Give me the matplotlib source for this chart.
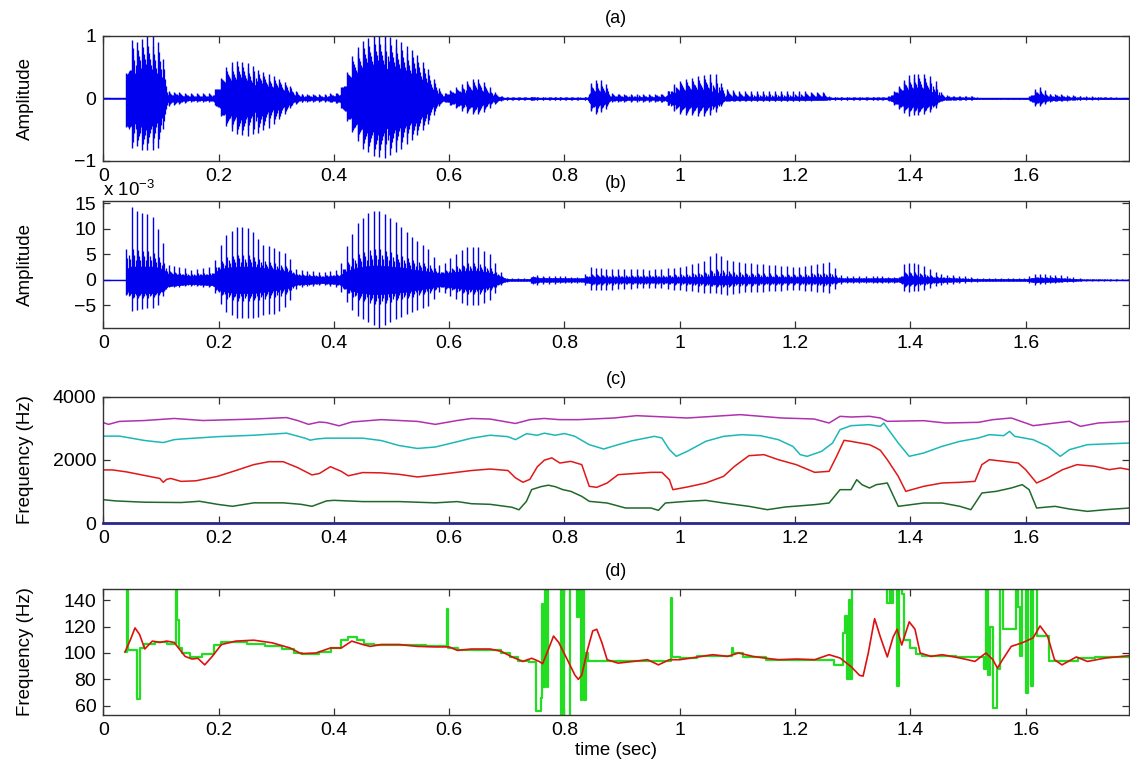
import numpy as np
import matplotlib
matplotlib.use("Agg")
from matplotlib import pyplot as plt

plt.rcParams['font.family'] = ['Liberation Sans', 'DejaVu Sans']

# ---- x axis (time, s) ----
t_max = 1.78
xticks = [0, 0.2, 0.4, 0.6, 0.8, 1.0, 1.2, 1.4, 1.6]
xtick_labels = ['0', '0.2', '0.4', '0.6', '0.8', '1', '1.2', '1.4', '1.6']

# ---- (a) speech waveform envelope ----
a_t = [0.000, 0.039, 0.040, 0.045, 0.050, 0.060, 0.070, 0.080, 0.090, 0.098, 0.105, 0.112,
       0.150, 0.190, 0.200, 0.210, 0.220, 0.235, 0.250, 0.270, 0.290, 0.310, 0.325, 0.340,
       0.380, 0.410, 0.420, 0.435, 0.450, 0.470, 0.490, 0.510, 0.530, 0.550, 0.565, 0.580,
       0.590, 0.600, 0.620, 0.640, 0.655, 0.670, 0.685, 0.695, 0.740, 0.745, 0.750, 0.840,
       0.845, 0.855, 0.870, 0.880, 0.950, 0.975, 0.985, 1.000, 1.030, 1.050, 1.065, 1.078,
       1.100, 1.200, 1.250, 1.262, 1.360, 1.385, 1.395, 1.420, 1.440, 1.452, 1.460, 1.510,
       1.520, 1.605, 1.615, 1.625, 1.640, 1.700, 1.780]
a_pos = [0.01, 0.01, 0.40, 0.60, 0.95, 0.90, 0.98, 1.00, 1.00, 0.85, 0.60, 0.12,
         0.08, 0.08, 0.25, 0.45, 0.58, 0.60, 0.57, 0.45, 0.38, 0.30, 0.20, 0.08,
         0.07, 0.10, 0.35, 0.75, 0.92, 1.00, 1.00, 0.95, 0.82, 0.65, 0.45, 0.20,
         0.08, 0.12, 0.22, 0.32, 0.30, 0.18, 0.06, 0.02, 0.02, 0.04, 0.02, 0.02,
         0.25, 0.30, 0.28, 0.08, 0.07, 0.08, 0.20, 0.28, 0.35, 0.40, 0.38, 0.15,
         0.12, 0.12, 0.10, 0.02, 0.02, 0.25, 0.38, 0.40, 0.35, 0.12, 0.05, 0.04,
         0.01, 0.01, 0.15, 0.18, 0.08, 0.04, 0.01]
a_neg = [-0.01, -0.01, -0.45, -0.70, -0.80, -0.75, -0.85, -0.80, -0.85, -0.75, -0.45, -0.12,
         -0.05, -0.05, -0.20, -0.40, -0.50, -0.58, -0.60, -0.55, -0.45, -0.30, -0.15, -0.06,
         -0.05, -0.08, -0.30, -0.60, -0.80, -0.92, -0.95, -0.85, -0.70, -0.55, -0.40, -0.15,
         -0.05, -0.10, -0.20, -0.25, -0.25, -0.15, -0.05, -0.02, -0.02, -0.04, -0.02, -0.02,
         -0.20, -0.25, -0.20, -0.05, -0.05, -0.06, -0.18, -0.25, -0.28, -0.28, -0.20, -0.05,
         -0.04, -0.04, -0.03, -0.02, -0.02, -0.20, -0.28, -0.25, -0.20, -0.05, -0.03, -0.02,
         -0.01, -0.01, -0.12, -0.12, -0.05, -0.02, -0.01]
a_core = [0.005, 0.005, 0.20, 0.35, 0.40, 0.40, 0.40, 0.40, 0.36, 0.28, 0.16, 0.05,
          0.025, 0.025, 0.10, 0.20, 0.24, 0.26, 0.24, 0.20, 0.16, 0.12, 0.06, 0.025,
          0.015, 0.04, 0.16, 0.32, 0.44, 0.48, 0.48, 0.44, 0.36, 0.28, 0.16, 0.06,
          0.03, 0.05, 0.08, 0.11, 0.10, 0.06, 0.025, 0.01, 0.01, 0.02, 0.01, 0.01,
          0.08, 0.10, 0.08, 0.025, 0.015, 0.025, 0.08, 0.11, 0.12, 0.12, 0.10, 0.03,
          0.02, 0.02, 0.02, 0.01, 0.012, 0.10, 0.12, 0.12, 0.10, 0.03, 0.015, 0.008,
          0.004, 0.004, 0.05, 0.05, 0.025, 0.008, 0.004]

# ---- (b) residual signal envelope (x 1e-3) ----
b_t = [0.000, 0.039, 0.040, 0.045, 0.055, 0.070, 0.085, 0.095, 0.105, 0.112, 0.150, 0.190,
       0.200, 0.215, 0.235, 0.255, 0.275, 0.300, 0.320, 0.335, 0.380, 0.410, 0.420, 0.440,
       0.465, 0.480, 0.500, 0.520, 0.540, 0.565, 0.585, 0.600, 0.630, 0.650, 0.670, 0.690,
       0.700, 0.740, 0.745, 0.755, 0.830, 0.845, 0.870, 0.950, 1.000, 1.040, 1.060, 1.080,
       1.100, 1.200, 1.260, 1.280, 1.380, 1.390, 1.420, 1.450, 1.500, 1.520, 1.600, 1.615,
       1.660, 1.700, 1.780]
b_pos = [0.05, 0.05, 6.0, 15.0, 13.5, 13.0, 12.5, 10.0, 7.0, 3.0, 2.0, 2.5,
         6.0, 9.0, 10.5, 10.0, 7.0, 6.0, 5.0, 2.0, 1.5, 2.0, 6.0, 11.0,
         13.5, 13.5, 12.0, 10.0, 8.0, 6.0, 2.5, 4.0, 6.5, 6.5, 5.0, 1.5,
         0.3, 0.3, 1.5, 0.8, 0.6, 2.5, 2.2, 2.0, 2.5, 3.5, 5.5, 4.0,
         3.5, 2.5, 3.5, 0.8, 0.6, 3.5, 3.0, 1.2, 0.6, 0.3, 0.3, 1.2,
         0.9, 0.2, 0.1]
b_neg = [-0.05, -0.05, -3.0, -6.0, -6.0, -5.5, -5.5, -5.0, -3.0, -1.5, -1.2, -1.5,
         -4.0, -6.5, -7.5, -7.5, -7.0, -6.5, -5.0, -1.5, -1.0, -1.5, -4.0, -7.0,
         -8.5, -9.5, -8.0, -7.0, -6.0, -5.0, -2.0, -3.0, -5.0, -5.0, -4.0, -1.0,
         -0.3, -0.3, -1.5, -0.8, -0.6, -2.0, -2.0, -1.5, -2.0, -2.5, -2.5, -3.0,
         -2.5, -2.0, -2.5, -0.7, -0.5, -2.5, -2.0, -1.0, -0.5, -0.3, -0.3, -1.0,
         -0.5, -0.2, -0.1]
b_core = [0.02, 0.02, 1.8, 2.6, 2.6, 2.6, 2.6, 2.4, 2.0, 1.2, 0.8, 1.0,
          2.0, 2.4, 2.6, 2.6, 2.4, 2.0, 1.6, 0.9, 0.6, 0.8, 1.6, 2.4,
          2.8, 2.8, 2.6, 2.4, 2.0, 1.6, 1.2, 1.4, 1.8, 1.8, 1.4, 0.6,
          0.15, 0.15, 0.6, 0.35, 0.3, 0.6, 0.5, 0.5, 0.5, 0.6, 0.8, 0.8,
          0.6, 0.5, 0.6, 0.3, 0.3, 0.8, 0.6, 0.4, 0.2, 0.15, 0.15, 0.4,
          0.3, 0.08, 0.04]

# ---- (c) formant tracks (Hz) ----
f4_t = [0.000, 0.009, 0.028, 0.072, 0.123, 0.173, 0.261, 0.318, 0.337, 0.356, 0.375, 0.387,
        0.409, 0.431, 0.482, 0.545, 0.576, 0.614, 0.639, 0.671, 0.715, 0.740, 0.765, 0.791,
        0.824, 0.886, 0.925, 0.950, 1.013, 1.105, 1.177, 1.233, 1.259, 1.278, 1.297, 1.329,
        1.348, 1.360, 1.423, 1.461, 1.518, 1.543, 1.575, 1.600, 1.613, 1.651, 1.676, 1.695,
        1.726, 1.780]
f4_v = [3187, 3131, 3225, 3253, 3318, 3253, 3299, 3346, 3253, 3131, 3206, 3187,
        3085, 3206, 3281, 3225, 3131, 3253, 3318, 3299, 3159, 3281, 3318, 3281,
        3280, 3333, 3407, 3386, 3333, 3439, 3333, 3301, 3174, 3386, 3364, 3386,
        3333, 3227, 3248, 3174, 3195, 3280, 3333, 3174, 3089, 3174, 3227, 3068,
        3174, 3227]
f3_t = [0.000, 0.028, 0.072, 0.104, 0.123, 0.135, 0.198, 0.261, 0.318, 0.337, 0.350, 0.359,
        0.369, 0.387, 0.450, 0.482, 0.513, 0.545, 0.576, 0.608, 0.639, 0.671, 0.702, 0.715,
        0.734, 0.753, 0.765, 0.784, 0.800, 0.818, 0.843, 0.868, 0.893, 0.918, 0.956, 0.969,
        0.982, 0.994, 1.013, 1.045, 1.076, 1.108, 1.140, 1.171, 1.196, 1.209, 1.221, 1.246,
        1.265, 1.278, 1.297, 1.329, 1.348, 1.354, 1.360, 1.379, 1.398, 1.423, 1.455, 1.486,
        1.518, 1.537, 1.562, 1.572, 1.581, 1.613, 1.638, 1.660, 1.676, 1.707, 1.780]
f3_v = [2758, 2758, 2618, 2553, 2646, 2665, 2740, 2786, 2851, 2758, 2693, 2628,
        2665, 2693, 2693, 2618, 2459, 2366, 2413, 2553, 2693, 2786, 2740, 2646,
        2833, 2786, 2851, 2786, 2840, 2751, 2486, 2349, 2486, 2613, 2751, 2698,
        2328, 2116, 2275, 2592, 2751, 2804, 2772, 2645, 2433, 2169, 2116, 2275,
        2539, 2962, 3089, 3121, 3068, 3174, 3015, 2539, 2116, 2222, 2433, 2592,
        2698, 2804, 2772, 2910, 2751, 2645, 2433, 2116, 2328, 2486, 2539]
f2_t = [0.000, 0.016, 0.041, 0.072, 0.098, 0.104, 0.110, 0.117, 0.135, 0.161, 0.198, 0.230,
        0.261, 0.287, 0.312, 0.337, 0.362, 0.375, 0.394, 0.413, 0.425, 0.450, 0.482, 0.513,
        0.545, 0.576, 0.639, 0.671, 0.702, 0.715, 0.728, 0.740, 0.753, 0.765, 0.778, 0.792,
        0.811, 0.830, 0.843, 0.856, 0.874, 0.893, 0.950, 0.969, 0.982, 0.988, 1.013, 1.045,
        1.076, 1.095, 1.120, 1.146, 1.171, 1.202, 1.234, 1.259, 1.272, 1.285, 1.297, 1.329,
        1.341, 1.348, 1.360, 1.379, 1.392, 1.423, 1.455, 1.486, 1.512, 1.524, 1.537, 1.562,
        1.587, 1.600, 1.619, 1.638, 1.664, 1.689, 1.720, 1.745, 1.764, 1.780]
f2_v = [1685, 1685, 1620, 1508, 1414, 1293, 1386, 1414, 1321, 1340, 1480, 1666,
        1853, 1946, 1946, 1760, 1526, 1573, 1788, 1638, 1498, 1601, 1592, 1545,
        1461, 1526, 1666, 1713, 1666, 1433, 1293, 1386, 1788, 1993, 2068, 1904,
        1957, 1852, 1164, 1132, 1270, 1534, 1608, 1608, 1375, 1058, 1143, 1270,
        1481, 1799, 2137, 2169, 2010, 1852, 1608, 1640, 2116, 2624, 2592, 2486,
        2380, 2306, 2010, 1481, 1005, 1164, 1270, 1291, 1322, 1852, 2010, 1957,
        1904, 1693, 1270, 1428, 1693, 1852, 1799, 1693, 1746, 1693]
f1_t = [0.000, 0.022, 0.072, 0.135, 0.167, 0.198, 0.224, 0.261, 0.312, 0.343, 0.362, 0.387,
        0.400, 0.450, 0.513, 0.576, 0.614, 0.639, 0.671, 0.709, 0.721, 0.734, 0.743, 0.759,
        0.772, 0.784, 0.797, 0.811, 0.830, 0.843, 0.874, 0.906, 0.950, 0.963, 0.975, 1.013,
        1.045, 1.076, 1.120, 1.152, 1.183, 1.234, 1.259, 1.278, 1.297, 1.307, 1.316, 1.329,
        1.341, 1.360, 1.379, 1.423, 1.455, 1.486, 1.505, 1.524, 1.549, 1.575, 1.594, 1.606,
        1.619, 1.651, 1.676, 1.707, 1.739, 1.780]
f1_v = [740, 700, 660, 650, 690, 593, 530, 640, 640, 593, 530, 700,
        720, 680, 680, 640, 680, 612, 593, 500, 420, 687, 1060, 1153,
        1200, 1153, 1060, 1005, 846, 688, 635, 476, 476, 402, 635, 688,
        720, 635, 529, 423, 508, 582, 635, 1058, 1058, 1375, 1217, 1111,
        1217, 1270, 529, 635, 635, 529, 423, 952, 1005, 1111, 1217, 1058,
        476, 529, 444, 370, 423, 476]
f0_line_t = [0.0, t_max]
f0_line_v = [0, 0]

# ---- (d) pitch tracks (Hz) ----
pitch_t = [0.038, 0.047, 0.055, 0.063, 0.072, 0.085, 0.098, 0.110, 0.123, 0.129, 0.142, 0.154,
           0.164, 0.176, 0.189, 0.205, 0.230, 0.261, 0.293, 0.324, 0.343, 0.369, 0.394, 0.413,
           0.431, 0.450, 0.463, 0.482, 0.513, 0.545, 0.576, 0.600, 0.614, 0.639, 0.671, 0.690,
           0.709, 0.728, 0.743, 0.756, 0.762, 0.772, 0.781, 0.790, 0.805, 0.818, 0.824, 0.830,
           0.840, 0.849, 0.856, 0.865, 0.874, 0.893, 0.919, 0.944, 0.963, 0.982, 1.000, 1.032,
           1.057, 1.083, 1.102, 1.127, 1.146, 1.171, 1.203, 1.234, 1.259, 1.278, 1.297, 1.312,
           1.318, 1.327, 1.338, 1.348, 1.360, 1.370, 1.377, 1.385, 1.398, 1.408, 1.417, 1.436,
           1.455, 1.486, 1.512, 1.531, 1.543, 1.551, 1.560, 1.575, 1.594, 1.613, 1.625, 1.638,
           1.650, 1.663, 1.688, 1.707, 1.739, 1.780]
pitch_v = [101, 110, 119, 114, 103, 109, 108, 109, 108, 104.6, 97.4, 95.4,
           96, 91, 97.4, 106.4, 109, 109.7, 107.7, 103.8, 99.5, 100, 103.8, 103.8,
           109, 106.4, 105, 106.4, 106.4, 105, 104.6, 104.6, 102, 103, 103, 101.3,
           97, 93.6, 96, 93.6, 91.8, 102.6, 112.8, 108, 94.9, 83.3, 80, 83.3,
           102.6, 116.7, 118, 107.7, 94.9, 92.3, 93.6, 94.9, 91, 94.9, 94.9, 97,
           98.7, 97.4, 100, 97.4, 96.2, 94.9, 95.4, 94.9, 98.7, 96.2, 89.7, 83,
           82.5, 100, 126, 112, 97, 112, 118, 106, 123.6, 118, 100, 97.4,
           98.7, 96.2, 93.6, 100, 95, 88.5, 95, 105, 107.7, 111.5, 120.5, 112.8,
           94.9, 91, 97, 93.6, 96.2, 98]

# raw frame-wise estimate (stepped, spikes run off the axes)
raw_t = [0.038, 0.0405, 0.0425, 0.059, 0.0635, 0.070, 0.090, 0.110, 0.126, 0.1285, 0.131, 0.137,
         0.150, 0.172, 0.192, 0.205, 0.250, 0.280, 0.310, 0.330, 0.345, 0.375, 0.395, 0.412,
         0.425, 0.440, 0.452, 0.470, 0.560, 0.5965, 0.5985, 0.615, 0.690, 0.705, 0.720, 0.738,
         0.751, 0.759, 0.7615, 0.7635, 0.7655, 0.7675, 0.769, 0.771, 0.7935, 0.796, 0.799, 0.806,
         0.809, 0.8225, 0.825, 0.828, 0.831, 0.834, 0.837, 0.840, 0.984, 0.986, 1.000, 1.030,
         1.090, 1.093, 1.110, 1.150, 1.268, 1.283, 1.287, 1.290, 1.293, 1.296, 1.299, 1.360,
         1.364, 1.367, 1.370, 1.376, 1.381, 1.386, 1.389, 1.400, 1.410, 1.420, 1.480, 1.528,
         1.531, 1.535, 1.538, 1.543, 1.550, 1.555, 1.560, 1.583, 1.586, 1.590, 1.594, 1.600,
         1.604, 1.610, 1.613, 1.620, 1.641, 1.690, 1.720, 1.780]
raw_v = [101, 170, 102, 65, 104, 107, 108, 107, 170, 125, 104, 100,
         97, 99, 106, 108, 107, 105, 103, 100, 99, 101, 104, 110,
         112, 110, 107, 106, 105, 133, 104, 102, 100, 97, 94, 93,
         56, 66, 137, 74, 170, 137, 74, 170, 40, 170, 40, 52,
         170, 127, 170, 64, 170, 64, 100, 94, 142, 97, 96, 98,
         104, 100, 97, 95, 91, 115, 128, 80, 140, 80, 170, 138,
         170, 138, 170, 75, 170, 145, 110, 104, 99, 98, 97, 88,
         170, 83, 120, 58, 88, 170, 118, 170, 135, 98, 170, 70,
         170, 75, 170, 113, 94, 96, 97, 98]

# glottal pulse instants follow the pitch track
pulses = []
tp = 0.040
while tp < t_max:
    pulses.append(tp)
    tp += 1.0 / np.interp(tp, pitch_t, pitch_v)
pulses = np.array(pulses)
period = np.diff(pulses, append=pulses[-1] + 0.01)


def draw_wave(ax, tt, pos, neg, core, ring):
    # main pulse, then decaying ringing lines inside each period
    ax.plot([0, t_max], [0, 0], color=blue, lw=1.0)
    ax.fill_between(tt, np.negative(core), core, color=blue, lw=0.5)
    ax.vlines(pulses, np.interp(pulses, tt, neg), np.interp(pulses, tt, pos),
              color=blue, lw=1.0)
    for frac, w in ring:
        ts = pulses + frac * period
        c = np.interp(ts, tt, core)
        hi = c + (np.interp(ts, tt, pos) - c) * w
        lo = -c + (np.interp(ts, tt, neg) + c) * w
        ax.vlines(ts, lo, hi, color=blue, lw=0.9)


blue = '#0000ee'
fig = plt.figure(figsize=(11.3, 7.68), dpi=100)
left, width = 0.0914, 0.9081
ax_a = fig.add_axes([left, 0.7904, width, 0.1628])
ax_b = fig.add_axes([left, 0.5729, width, 0.1654])
ax_c = fig.add_axes([left, 0.3190, width, 0.1641])
ax_d = fig.add_axes([left, 0.0690, width, 0.1641])

# (a)
draw_wave(ax_a, a_t, a_pos, a_neg, a_core,
          [(0.12, 0.75), (0.3, 0.55), (0.5, 0.4), (0.7, 0.25), (0.85, 0.15)])
ax_a.set_ylim(-1, 1)
ax_a.set_yticks([-1, 0, 1])
ax_a.set_yticklabels(['\u22121', '0', '1'])
ax_a.set_ylabel('Amplitude')
ax_a.set_title('(a)', fontsize=13, pad=9)

# (b)
draw_wave(ax_b, b_t, b_pos, b_neg, b_core,
          [(0.2, 0.3), (0.45, 0.2), (0.7, 0.12)])
ax_b.set_ylim(-9.4, 15.4)
ax_b.set_yticks([-5, 0, 5, 10, 15])
ax_b.set_yticklabels(['\u22125', '0', '5', '10', '15'])
ax_b.set_ylabel('Amplitude')
ax_b.set_title('(b)', fontsize=13, pad=9)
ax_b.text(0.0, 1.005, 'x 10$^{\\mathregular{\u22123}}$', transform=ax_b.transAxes,
          ha='left', va='bottom', fontsize=13.5)

# (c)
ax_c.plot(f0_line_t, f0_line_v, color='#2020ff', lw=2.0, clip_on=False)
ax_c.plot(f1_t, f1_v, color='#1f6a2a', lw=1.1)
ax_c.plot(f2_t, f2_v, color='#e01818', lw=1.1)
ax_c.plot(f3_t, f3_v, color='#1cb8b8', lw=1.1)
ax_c.plot(f4_t, f4_v, color='#b030b0', lw=1.1)
ax_c.set_ylim(0, 4000)
ax_c.set_yticks([0, 2000, 4000])
ax_c.set_ylabel('Frequency (Hz)')
ax_c.set_title('(c)', fontsize=13, pad=9)

# (d)
ax_d.plot(raw_t, raw_v, color='#22dd22', lw=1.6, drawstyle='steps-post')
ax_d.plot(pitch_t, pitch_v, color='#dd1010', lw=1.2)
ax_d.set_ylim(53, 148.5)
ax_d.set_yticks([60, 80, 100, 120, 140])
ax_d.set_ylabel('Frequency (Hz)')
ax_d.set_xlabel('time (sec)', fontsize=13.5, labelpad=2)
ax_d.set_title('(d)', fontsize=13, pad=9)

for ax in (ax_a, ax_b, ax_c, ax_d):
    ax.set_xlim(0, t_max)
    ax.set_xticks(xticks)
    ax.set_xticklabels(xtick_labels)
    ax.tick_params(direction='in', top=True, right=True, length=5, width=0.9,
                   labelsize=14, color='#333333', pad=5)
    for s in ax.spines.values():
        s.set_color('#333333')
        s.set_linewidth(1.0)
    ax.yaxis.label.set_fontsize(13.5)
    ax.yaxis.set_label_coords(-0.0675, 0.5)

fig.savefig('out.png', dpi=100)
